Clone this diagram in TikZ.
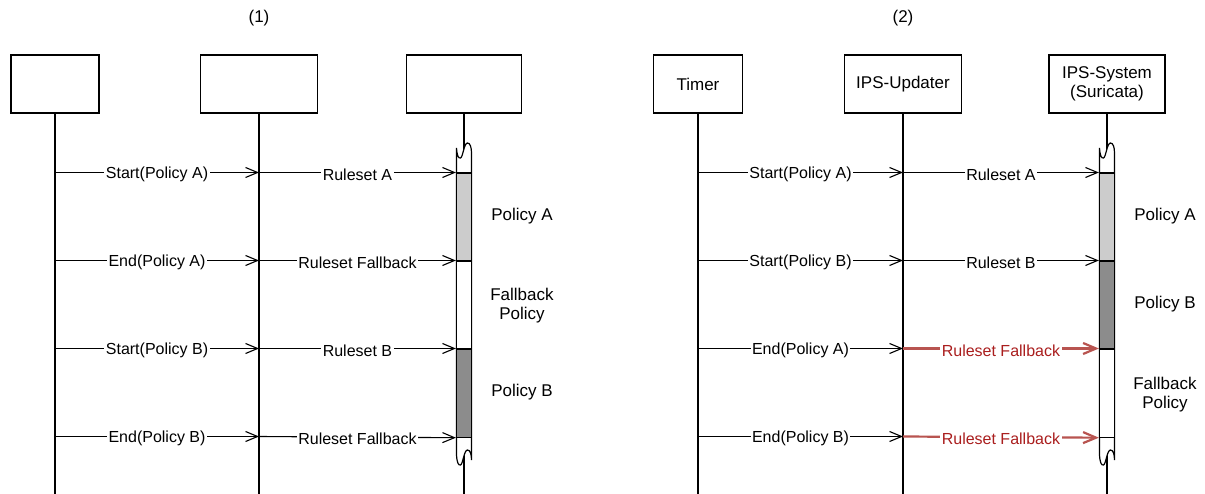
\documentclass[tikz,border=0pt]{standalone}
\usepackage{fontspec}
\setmainfont{Liberation Sans}
\usetikzlibrary{arrows.meta}

\definecolor{barlight}{RGB}{204,204,204}
\definecolor{bardark}{RGB}{140,140,140}
\definecolor{fbarrow}{RGB}{184,84,80}
\definecolor{fbtext}{RGB}{170,30,30}

% white activation bar with torn (wavy) top and bottom ends, centred on x = #1
\newcommand\wavebar[1]{%
  \begin{scope}[shift={(#1,0)}]
    \draw[line width=1.2pt, fill=white]
      (-7.5,148) .. controls (-7,156) and (-5.5,158.5) .. (-3.5,158)
      .. controls (-1,157) and (0,143) .. (3.5,143)
      .. controls (6,143) and (7.5,147) .. (7.5,153)
      -- (7.5,460)
      .. controls (7.5,454) and (6,450) .. (3.5,450)
      .. controls (0,450) and (-1,464) .. (-3.5,465)
      .. controls (-5.5,465.5) and (-7,463) .. (-7.5,455)
      -- cycle;
  \end{scope}}

\begin{document}
\begin{tikzpicture}[x=1pt,y=-1pt,
  every node/.style={font=\fontsize{17}{19.5}\selectfont},
  actor/.style={draw, line width=1.2pt, minimum height=58pt, inner sep=0pt, align=center},
  life/.style={line width=1.2pt},
  msg/.style={line width=1.1pt, -{Straight Barb[length=12pt,width=10pt]}},
  fbmsg/.style={line width=2.2pt, draw=fbarrow, -{Straight Barb[length=13pt,width=11pt]}},
  lbl/.style={fill=white, inner sep=1.5pt, yshift=-2pt, font=\fontsize{16}{19}\selectfont},
  fblbl/.style={lbl, text=fbtext},
  side/.style={align=center},
  seg/.style={draw, line width=1.2pt, minimum width=15pt, minimum height=88pt, inner sep=0pt, anchor=north},
]
\useasboundingbox (0,0) rectangle (1205,494);

% message rows and page bottom
\coordinate (r1) at (0,172.5);
\coordinate (r2) at (0,260.5);
\coordinate (r3) at (0,348.5);
\coordinate (r4) at (0,436.5);
\coordinate (bot) at (0,494);

% titles
\node (t1) at (259,18.5) {(1)};
\node (t2) at (903,18.5) {(2)};

% ---------- scenario (1) ----------
\node[actor, minimum width=88pt]  (a1) at (55,84)  {};
\node[actor, minimum width=117pt] (a2) at (259,84) {};
\node[actor, minimum width=115pt] (a3) at (464,84) {};

\draw[life] (a1.south) -- (a1.south |- bot);
\draw[life] (a2.south) -- (a2.south |- bot);
\draw[life] (a3.south) -- (a3.south |- bot);
\wavebar{464}
\node[seg, fill=barlight] (a3s1) at (464,172.5) {};
\node[seg, fill=white]    (a3s2) at (464,260.5) {};
\node[seg, fill=bardark]  (a3s3) at (464,348.5) {};

\draw[msg] (a1.south |- r1) -- node[lbl] {Start(Policy A)} (a2.south |- r1);
\draw[msg] (a2.south |- r1) -- node[lbl] {Ruleset A} (a3s1.north west);
\draw[msg] (a1.south |- r2) -- node[lbl] {End(Policy A)} (a2.south |- r2);
\draw[msg] (a2.south |- r2) -- node[lbl] {Ruleset Fallback} (a3s2.north west);
\draw[msg] (a1.south |- r3) -- node[lbl] {Start(Policy B)} (a2.south |- r3);
\draw[msg] (a2.south |- r3) -- node[lbl] {Ruleset B} (a3s3.north west);
\draw[msg] (a1.south |- r4) -- node[lbl] {End(Policy B)} (a2.south |- r4);
\draw[msg] (a2.south |- r4) -- node[lbl] {Ruleset Fallback} (a3s3.south west);

\node[side] (p1a) at (522,216.5) {Policy A};
\node[side] (p1f) at (522,305.5) {Fallback\\Policy};
\node[side] (p1b) at (522,392.5) {Policy B};

% ---------- scenario (2) ----------
\node[actor, minimum width=89pt]  (b1) at (698,84)  {Timer};
\node[actor, minimum width=117pt] (b2) at (903,84)  {IPS-Updater};
\node[actor, minimum width=116pt] (b3) at (1107,84) {IPS-System\\(Suricata)};

\draw[life] (b1.south) -- (b1.south |- bot);
\draw[life] (b2.south) -- (b2.south |- bot);
\draw[life] (b3.south) -- (b3.south |- bot);
\wavebar{1107}
\node[seg, fill=barlight] (b3s1) at (1107,172.5) {};
\node[seg, fill=bardark]  (b3s2) at (1107,260.5) {};
\node[seg, fill=white]    (b3s3) at (1107,348.5) {};

\draw[msg] (b1.south |- r1) -- node[lbl] {Start(Policy A)} (b2.south |- r1);
\draw[msg] (b2.south |- r1) -- node[lbl] {Ruleset A} (b3s1.north west);
\draw[msg] (b1.south |- r2) -- node[lbl] {Start(Policy B)} (b2.south |- r2);
\draw[msg] (b2.south |- r2) -- node[lbl] {Ruleset B} (b3s2.north west);
\draw[msg] (b1.south |- r3) -- node[lbl] {End(Policy A)} (b2.south |- r3);
\draw[fbmsg] (b2.south |- r3) -- node[fblbl] {Ruleset Fallback} (b3s3.north west);
\draw[msg] (b1.south |- r4) -- node[lbl] {End(Policy B)} (b2.south |- r4);
\draw[fbmsg] (b2.south |- r4) -- node[fblbl] {Ruleset Fallback} (b3s3.south west);

\node[side] (p2a) at (1165,216.5) {Policy A};
\node[side] (p2b) at (1165,304.5) {Policy B};
\node[side] (p2f) at (1165,394.5) {Fallback\\Policy};
\end{tikzpicture}
\end{document}
